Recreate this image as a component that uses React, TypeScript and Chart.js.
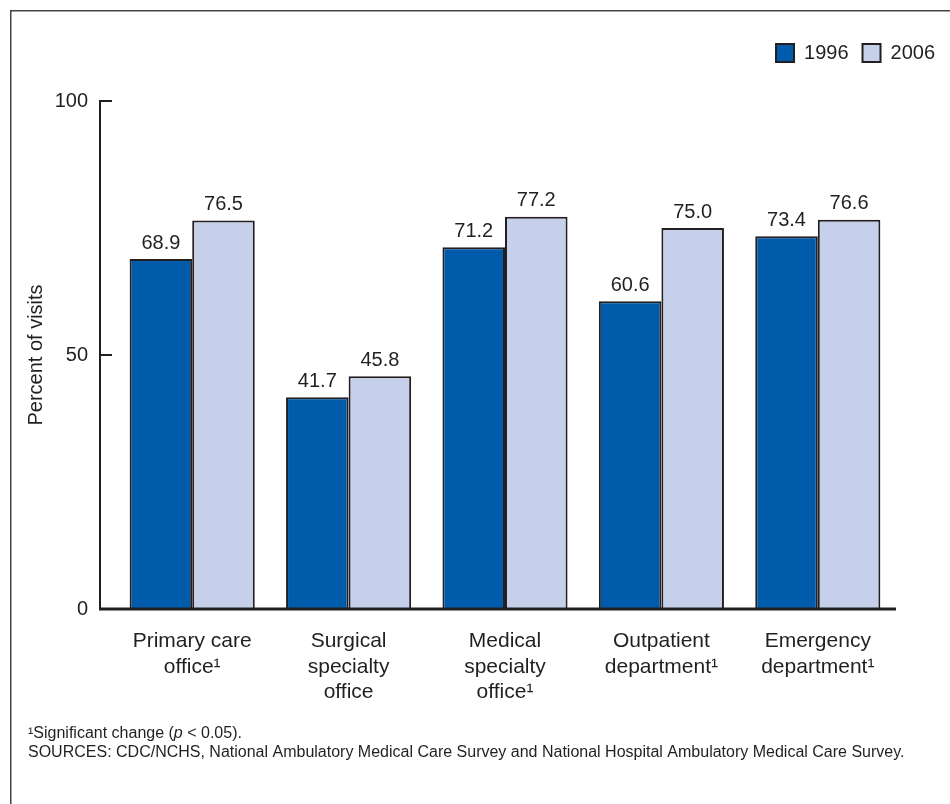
import React, { useEffect, useRef } from "react";
import { Chart, registerables } from "chart.js";

Chart.register(...registerables);

const categories: string[][] = [
  ["Primary care", "office¹"],
  ["Surgical", "specialty", "office"],
  ["Medical", "specialty", "office¹"],
  ["Outpatient", "department¹"],
  ["Emergency", "department¹"],
];
const seriesNames = ["1996", "2006"];
const values1996 = [68.9, 41.7, 71.2, 60.6, 73.4];
const values2006 = [76.5, 45.8, 77.2, 75.0, 76.6];
const yTickValues = [0, 50, 100];
const yTickMarks = [50, 100];
const yTitle = "Percent of visits";
const footnoteLine1 = ["¹Significant change (", "p", " < 0.05)."];
const footnoteLine2 =
  "SOURCES: CDC/NCHS, National Ambulatory Medical Care Survey and National Hospital Ambulatory Medical Care Survey.";

const FONT = "'Liberation Sans', Arial, Helvetica, sans-serif";
const INK = "#231f20";
const BLUE = "#005baa";
const LIGHT = "#c6d0ea";

const legendGap = {
  id: "legendGap",
  beforeInit(chart: any) {
    const l = chart.legend;
    if (!l) return;
    const fit = l.fit;
    l.fit = function () {
      fit.call(this);
      this.height += 28;
    };
  },
};

const decorations = {
  id: "decorations",
  afterDatasetsDraw(chart: any) {
    const { ctx, chartArea } = chart;
    const y = chart.scales.y;
    ctx.save();
    // frame
    ctx.strokeStyle = "#444";
    ctx.lineWidth = 1.5;
    ctx.beginPath();
    ctx.moveTo(10.75, chart.height);
    ctx.lineTo(10.75, 10.75);
    ctx.lineTo(chart.width, 10.75);
    ctx.stroke();

    // value labels
    ctx.fillStyle = INK;
    ctx.font = `20px ${FONT}`;
    ctx.textAlign = "center";
    ctx.textBaseline = "bottom";
    chart.data.datasets.forEach((ds: any, di: number) => {
      const meta = chart.getDatasetMeta(di);
      meta.data.forEach((bar: any, i: number) => {
        ctx.fillText((ds.data[i] as number).toFixed(1), bar.x, bar.y - 6);
      });
    });

    // y axis line
    const axisX = 100;
    const yTop = y.getPixelForValue(100);
    const yBot = y.getPixelForValue(0);
    ctx.strokeStyle = INK;
    ctx.lineWidth = 2;
    ctx.beginPath();
    ctx.moveTo(axisX, yBot);
    ctx.lineTo(axisX, yTop - 1);
    ctx.stroke();
    yTickMarks.forEach((v) => {
      const py = y.getPixelForValue(v);
      ctx.beginPath();
      ctx.moveTo(axisX - 1, py);
      ctx.lineTo(axisX + 12, py);
      ctx.stroke();
    });
    // x axis line
    ctx.lineWidth = 3;
    ctx.beginPath();
    ctx.moveTo(axisX - 1, yBot);
    ctx.lineTo(chartArea.right, yBot);
    ctx.stroke();

    // footnotes
    ctx.textAlign = "left";
    ctx.textBaseline = "alphabetic";
    let x = 28;
    footnoteLine1.forEach((part, idx) => {
      ctx.font = idx === 1 ? `italic 16px ${FONT}` : `16px ${FONT}`;
      ctx.fillText(part, x, 738);
      x += ctx.measureText(part).width;
    });
    ctx.font = `16px ${FONT}`;
    ctx.fillText(footnoteLine2, 28, 757);
    ctx.restore();
  },
};

export default function App() {
  const ref = useRef<HTMLCanvasElement | null>(null);
  useEffect(() => {
    if (!ref.current) return;
    const chart = new Chart(ref.current, {
      type: "bar",
      data: {
        labels: categories,
        datasets: [
          {
            label: seriesNames[0],
            data: values1996,
            backgroundColor: BLUE,
            borderColor: INK,
            borderWidth: 2,
            borderSkipped: "start",
          },
          {
            label: seriesNames[1],
            data: values2006,
            backgroundColor: LIGHT,
            borderColor: INK,
            borderWidth: 2,
            borderSkipped: "start",
          },
        ],
      },
      options: {
        responsive: false,
        devicePixelRatio: 1,
        animation: false,
        layout: { padding: { top: 29, right: 1, bottom: 95, left: 0 } },
        datasets: { bar: { barPercentage: 1, categoryPercentage: 0.8 } },
        plugins: {
          tooltip: { enabled: false },
          legend: {
            position: "top",
            align: "end",
            labels: {
              color: INK,
              font: { family: FONT, size: 20 },
              boxWidth: 18,
              boxHeight: 18,
              padding: 14,
              generateLabels: (chart: any) =>
                Chart.defaults.plugins.legend.labels
                  .generateLabels(chart)
                  .map((l: any) => ({ ...l, lineWidth: 2, strokeStyle: INK })),
            },
          },
        },
        scales: {
          x: {
            grid: { display: false, drawTicks: false },
            border: { display: false },
            ticks: {
              color: INK,
              font: { family: FONT, size: 21, lineHeight: 1.2 },
              padding: 20,
              maxRotation: 0,
              autoSkip: false,
            },
            afterFit: (s: any) => {
              s.height = 100;
            },
          },
          y: {
            min: 0,
            max: 100,
            grid: { display: false, drawTicks: false },
            border: { display: false },
            afterBuildTicks: (s: any) => {
              s.ticks = yTickValues.map((v) => ({ value: v }));
            },
            ticks: {
              color: INK,
              font: { family: FONT, size: 20 },
              padding: 26,
            },
            title: {
              display: true,
              text: yTitle,
              color: INK,
              font: { family: FONT, size: 20, lineHeight: 1.2 },
              padding: { top: 24, bottom: 0 },
            },
            afterFit: (s: any) => {
              s.width = 114;
            },
          },
          yRight: {
            type: "linear",
            position: "right",
            display: true,
            grid: { display: false, drawTicks: false },
            border: { display: false },
            ticks: { display: false },
            afterFit: (s: any) => {
              s.width = 53;
            },
          },
        },
      },
      plugins: [legendGap, decorations],
    });
    return () => chart.destroy();
  }, []);
  return (
    <div style={{ position: "fixed", left: 0, top: 0, width: 950, height: 804, background: "#fff" }}>
      <canvas ref={ref} width={950} height={804} />
    </div>
  );
}
